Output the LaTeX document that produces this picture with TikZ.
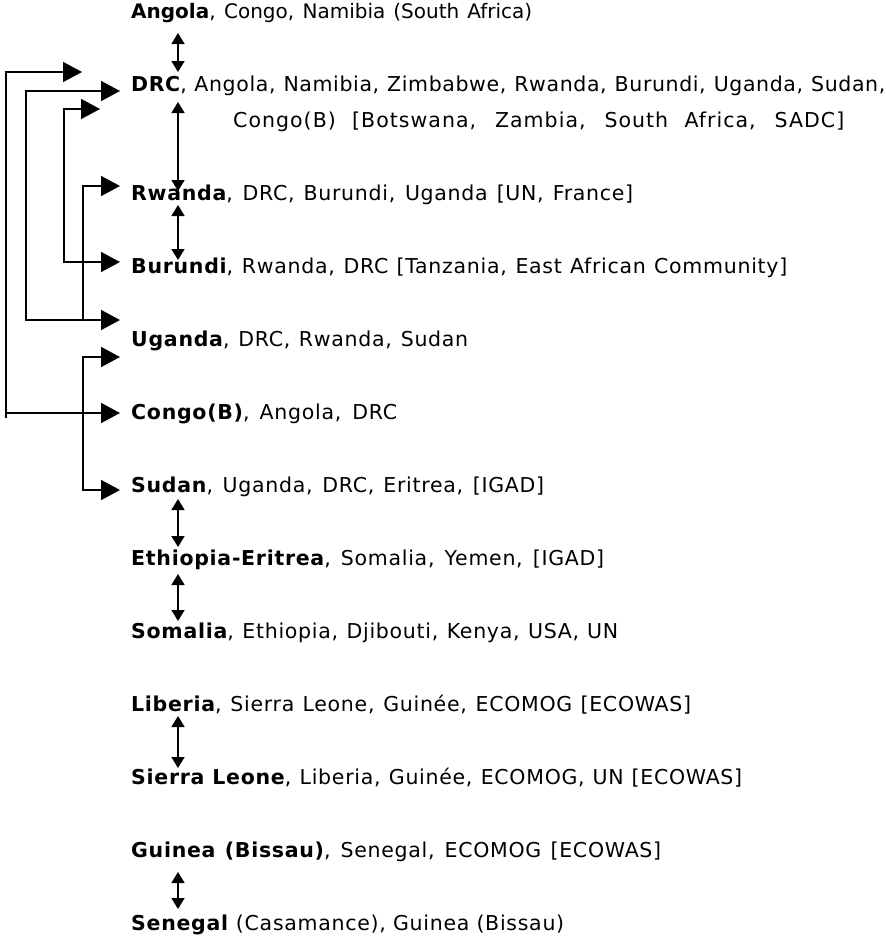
\documentclass[tikz,border=0pt]{standalone}
\usepackage{fontspec}
\setmainfont{DejaVu Sans}
\usetikzlibrary{arrows.meta}
% a row of text set to a given width: #1 width (pt), #2 letter spacing, #3 text
\newcommand{\fitrow}[3]{\hbox to #1pt{\addfontfeatures{LetterSpace=#2}\spaceskip=6.4pt plus 40pt minus 3pt\relax #3}}
\begin{document}
\begin{tikzpicture}[x=1pt,y=-1pt,
  row/.style={anchor=base west, inner sep=0pt, font=\fontsize{20.5}{24}\selectfont},
  conn/.style={line width=1.6pt},
  bigtip/.style={-{Triangle[length=19pt,width=20pt]}},
  dbl/.style={{Triangle[length=11pt,width=13pt]}-{Triangle[length=11pt,width=13pt]}}]
\useasboundingbox (0,0) rectangle (886,937);
% text rows
\node[row,font=\fontsize{20}{24}\selectfont] (angola) at (131,18) {\fitrow{401}{0}{\textbf{Angola}, Congo, Namibia (South Africa)}};
\node[row] (drc) at (131,91) {\fitrow{754}{3}{\textbf{DRC}, Angola, Namibia, Zimbabwe, Rwanda, Burundi, Uganda, Sudan,}};
\node[row] (drc2) at (233,127) {\fitrow{611}{5}{Congo(B) [Botswana, Zambia, South Africa, SADC]}};
\node[row] (rwanda) at (131,200) {\fitrow{502}{3.5}{\textbf{Rwanda}, DRC, Burundi, Uganda [UN, France]}};
\node[row] (burundi) at (131,273) {\fitrow{656}{3.5}{\textbf{Burundi}, Rwanda, DRC [Tanzania, East African Community]}};
\node[row] (uganda) at (131,346) {\fitrow{337}{3.5}{\textbf{Uganda}, DRC, Rwanda, Sudan}};
\node[row] (congob) at (131,419) {\fitrow{266}{3.5}{\textbf{Congo(B)}, Angola, DRC}};
\node[row] (sudan) at (131,492) {\fitrow{413}{3.5}{\textbf{Sudan}, Uganda, DRC, Eritrea, [IGAD]}};
\node[row] (ethiopia) at (131,565) {\fitrow{473}{3.5}{\textbf{Ethiopia-Eritrea}, Somalia, Yemen, [IGAD]}};
\node[row] (somalia) at (131,638) {\fitrow{487}{3.5}{\textbf{Somalia}, Ethiopia, Djibouti, Kenya, USA, UN}};
\node[row] (liberia) at (131,711) {\fitrow{560}{3.5}{\textbf{Liberia}, Sierra Leone, Guinée, ECOMOG [ECOWAS]}};
\node[row] (sierra) at (131,784) {\fitrow{611}{3.5}{\textbf{Sierra Leone}, Liberia, Guinée, ECOMOG, UN [ECOWAS]}};
\node[row] (guinea) at (131,857) {\fitrow{530}{3.5}{\textbf{Guinea (Bissau)}, Senegal, ECOMOG [ECOWAS]}};
\node[row] (senegal) at (131,930) {\fitrow{433}{3.5}{\textbf{Senegal} (Casamance), Guinea (Bissau)}};
% vertical double arrows
\coordinate (v1a) at (178,33);  \coordinate (v1b) at (178,72);
\coordinate (v2a) at (178,102); \coordinate (v2b) at (178,191);
\coordinate (v3a) at (178,205); \coordinate (v3b) at (178,260);
\coordinate (v4a) at (178,499); \coordinate (v4b) at (178,547);
\coordinate (v5a) at (178,574); \coordinate (v5b) at (178,621);
\coordinate (v6a) at (178,716); \coordinate (v6b) at (178,768);
\coordinate (v7a) at (178,872); \coordinate (v7b) at (178,909);
\foreach \i in {1,...,7} {\draw[conn,dbl] (v\i a) -- (v\i b);}
% bracket connectors
\coordinate (tA) at (82,72);   \coordinate (cA1) at (6,72);
\coordinate (cA2) at (6,413);  \coordinate (cA3) at (6,418);  \coordinate (tAb) at (120,413);
\coordinate (tB) at (120,91);  \coordinate (cB1) at (26,91);
\coordinate (cB2) at (26,320); \coordinate (tBb) at (120,320);
\coordinate (tC) at (100,109); \coordinate (cC1) at (64,109);
\coordinate (cC2) at (64,262); \coordinate (tCb) at (120,262);
\coordinate (tD) at (120,186); \coordinate (cD1) at (83,186); \coordinate (cD2) at (83,320);
\coordinate (tE) at (120,357); \coordinate (cE1) at (83,357);
\coordinate (cE2) at (83,490); \coordinate (tEb) at (120,490);
\draw[conn,bigtip] (cA2) -- (cA1) -- (tA);
\draw[conn,bigtip] (cA3) -- (cA2) -- (tAb);
\draw[conn,bigtip] (cB2) -- (cB1) -- (tB);
\draw[conn,bigtip] (cB1) -- (cB2) -- (tBb);
\draw[conn,bigtip] (cC2) -- (cC1) -- (tC);
\draw[conn,bigtip] (cC1) -- (cC2) -- (tCb);
\draw[conn,bigtip] (cD2) -- (cD1) -- (tD);
\draw[conn,bigtip] (cE2) -- (cE1) -- (tE);
\draw[conn,bigtip] (cE1) -- (cE2) -- (tEb);
\end{tikzpicture}
\end{document}
